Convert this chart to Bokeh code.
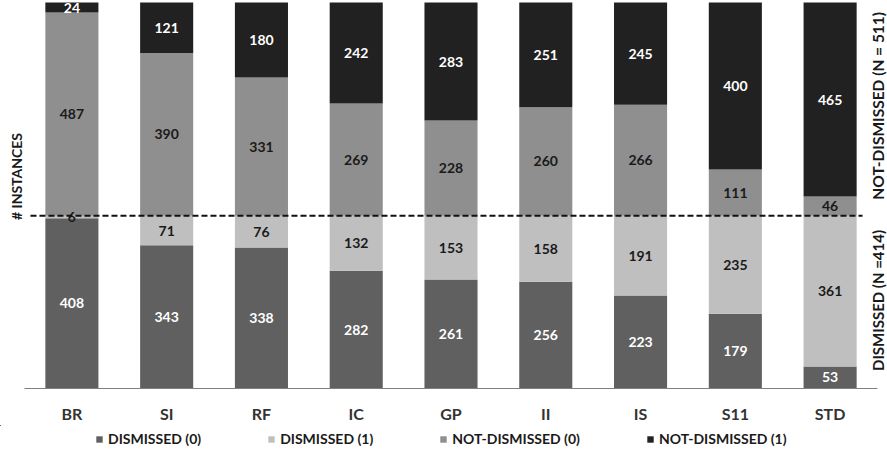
import math
from bokeh.plotting import figure
from bokeh.layouts import column
from bokeh.models import ColumnDataSource, Range1d, FixedTicker, Legend, LegendItem, Label
from bokeh.embed import file_html
from bokeh.resources import INLINE
from bokeh.core.properties import value

# ---- data ----
methods = ["BR", "SI", "RF", "IC", "GP", "II", "IS", "S11", "STD"]
dismissed_0 = [408, 343, 338, 282, 261, 256, 223, 179, 53]
dismissed_1 = [6, 71, 76, 132, 153, 158, 191, 235, 361]
not_dismissed_0 = [487, 390, 331, 269, 228, 260, 266, 111, 46]
not_dismissed_1 = [24, 121, 180, 242, 283, 251, 245, 400, 465]
series_names = ["DISMISSED (0)", "DISMISSED (1)", "NOT-DISMISSED (0)", "NOT-DISMISSED (1)"]

series = [dismissed_0, dismissed_1, not_dismissed_0, not_dismissed_1]
keys = ["d0", "d1", "n0", "n1"]
colors = ["#606060", "#bfbfbf", "#8f8f8f", "#212121"]
text_on = ["#ffffff", "#1a1a1a", "#1a1a1a", "#ffffff"]

n_dismissed = dismissed_0[0] + dismissed_1[0]
n_not = not_dismissed_0[0] + not_dismissed_1[0]

xs = [i + 0.5 for i in range(len(methods))]
data = dict(x=xs)
for k, s in zip(keys, series):
    data[k] = s
src = ColumnDataSource(data)

FONT = "Lato"

p = figure(width=887, height=425, x_range=Range1d(-0.2532, 9.1055), y_range=Range1d(0, 929.8),
           output_backend="svg", toolbar_location=None,
           min_border_left=0, min_border_right=0, min_border_top=0, min_border_bottom=37)
p.yaxis.visible = False
p.grid.visible = False
p.outline_line_color = None
p.background_fill_color = "white"

ax = p.xaxis[0]
ax.ticker = FixedTicker(ticks=xs)
ax.major_label_overrides = {x: m for x, m in zip(xs, methods)}
ax.bounds = (0, len(methods))
ax.major_tick_line_color = None
ax.minor_tick_line_color = None
ax.axis_line_color = "#808080"
ax.axis_line_width = 1.2
ax.major_label_text_font = FONT
ax.major_label_text_font_style = "bold"
ax.major_label_text_font_size = "16px"
ax.major_label_text_color = "#333333"
ax.major_label_standoff = 9

renderers = p.vbar_stack(keys, x="x", width=0.56, source=src, color=colors, line_color=None)

# value labels
bottoms = [0] * len(methods)
for si, s in enumerate(series):
    mids, txts, cols = [], [], []
    for i, v in enumerate(s):
        mids.append(bottoms[i] + v / 2)
        txts.append(str(v))
        cols.append(text_on[si] if v >= 15 else "#1a1a1a")
        bottoms[i] += v
    ls = ColumnDataSource(dict(x=xs, y=mids, t=txts, c=cols))
    p.text(x="x", y="y", text="t", source=ls, text_color="c", text_align="center",
           text_baseline="middle", text_font=value(FONT), text_font_style="bold",
           text_font_size="14px")

# dashed separator at the dismissed / not-dismissed boundary
p.segment(x0=[0.063], y0=[n_dismissed], x1=[8.842], y1=[n_dismissed],
          line_color="#111111", line_width=2, line_dash="6 3")

# side labels
p.add_layout(Label(x=-0.0844, y=508, text="# INSTANCES", angle=math.pi / 2,
                   text_align="center", text_baseline="middle", text_font=FONT,
                   text_font_style="bold", text_font_size="14px", text_color="#1a1a1a"))
p.add_layout(Label(x=9.0, y=n_dismissed + n_not / 2 + 8, text=f"NOT-DISMISSED (N = {n_not})",
                   angle=math.pi / 2, text_align="center", text_baseline="middle",
                   text_font=FONT, text_font_style="bold", text_font_size="15.5px",
                   text_color="#1a1a1a"))
p.add_layout(Label(x=9.0, y=n_dismissed / 2 + 4, text=f"DISMISSED (N ={n_dismissed})",
                   angle=math.pi / 2, text_align="center", text_baseline="middle",
                   text_font=FONT, text_font_style="bold", text_font_size="15px",
                   text_color="#1a1a1a"))

# legend strip underneath (its bars sit outside the strip's visible ranges)
pl = figure(width=887, height=35, x_range=Range1d(20, 30), y_range=Range1d(-2000, -1000),
            output_backend="svg", toolbar_location=None,
            min_border_left=0, min_border_right=0, min_border_top=0, min_border_bottom=0)
pl.axis.visible = False
pl.grid.visible = False
pl.outline_line_color = None
leg_renderers = pl.vbar_stack(keys, x="x", width=0.56, source=src, color=colors, line_color=None)
legend = Legend(items=[LegendItem(label=n, renderers=[r]) for n, r in zip(series_names, leg_renderers)],
                orientation="horizontal", location=(95, 13),
                glyph_width=8, glyph_height=8, label_standoff=5, spacing=66,
                label_height=14, label_text_baseline="middle",
                label_text_font=FONT, label_text_font_style="bold", label_text_font_size="14px",
                label_text_color="#1a1a1a", border_line_color=None, background_fill_alpha=0,
                padding=3, margin=0)
pl.add_layout(legend)

layout = column(p, pl, spacing=0)
open("out.html", "w").write(file_html(layout, INLINE))
